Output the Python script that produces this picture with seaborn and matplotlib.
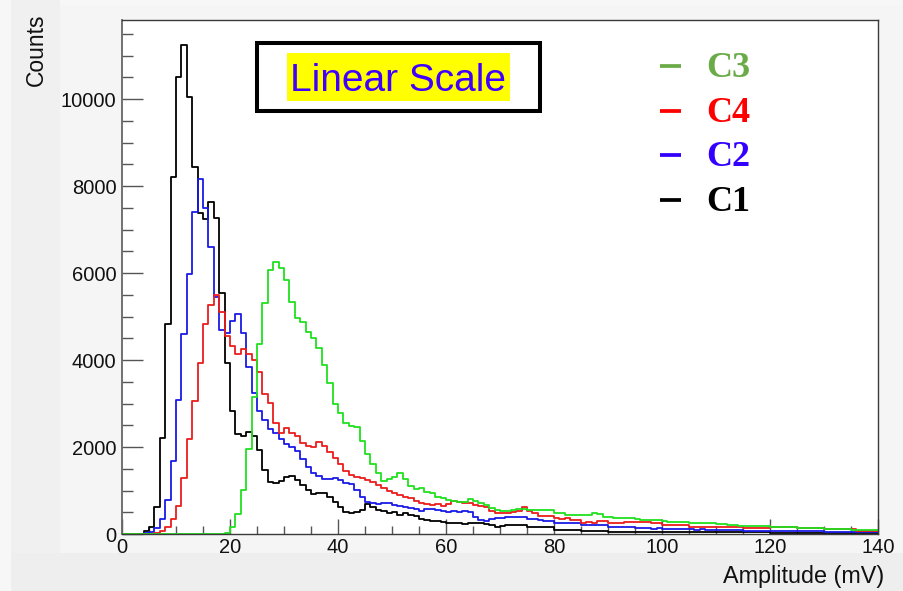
import numpy as np
import pandas as pd
import matplotlib
matplotlib.use("Agg")
import matplotlib.pyplot as plt
import seaborn as sns
from matplotlib.patches import Rectangle
from matplotlib.lines import Line2D
from matplotlib.ticker import MultipleLocator

# Amplitude spectra, 1 mV bins from 0 to 140 mV (counts per bin)
amp_min, amp_max, bin_width = 0, 140, 1

c1_counts = [
    0, 0, 0, 10, 60, 150, 630, 2200, 4820, 8200,
    10500, 11250, 10060, 8430, 7380, 7250, 7640, 7260, 5550, 3925,
    2830, 2300, 2250, 2350, 2254, 1932, 1472, 1204, 1180, 1220,
    1300, 1330, 1250, 1130, 1010, 920, 935, 935, 860, 745,
    630, 515, 475, 515, 550, 690, 630, 550, 535, 490,
    515, 440, 475, 440, 415, 340, 320, 305, 305, 285,
    260, 260, 245, 230, 260, 260, 245, 230, 205, 170,
    185, 205, 205, 200, 210, 155, 150, 155, 150, 155,
    95, 90, 90, 92, 88, 70, 68, 70, 66, 70,
    55, 52, 55, 54, 50, 55, 52, 50, 48, 52,
    46, 45, 48, 44, 46, 42, 45, 44, 40, 44,
    38, 40, 36, 38, 40, 36, 38, 35, 38, 36,
    32, 30, 33, 31, 30, 32, 29, 31, 30, 32,
    30, 29, 31, 28, 30, 31, 29, 30, 28, 30,
]

c2_counts = [
    0, 0, 0, 5, 20, 50, 138, 340, 782, 1670,
    3070, 4600, 5980, 7414, 8165, 7500, 6600, 5440, 4690, 4620,
    4900, 5060, 4620, 3830, 3240, 2837, 2622, 2420, 2315, 2177,
    2070, 2000, 1905, 1717, 1530, 1395, 1325, 1270, 1258, 1280,
    1242, 1175, 1140, 1012, 860, 744, 705, 690, 705, 705,
    667, 644, 629, 590, 567, 537, 567, 567, 552, 537,
    514, 537, 514, 537, 514, 400, 322, 307, 337, 360,
    360, 380, 390, 385, 380, 337, 340, 330, 307, 305,
    262, 260, 258, 262, 255, 210, 205, 207, 200, 205,
    170, 168, 165, 170, 160, 130, 128, 132, 125, 130,
    107, 105, 110, 104, 108, 105, 100, 108, 102, 100,
    92, 90, 94, 88, 92, 78, 76, 80, 75, 77,
    70, 68, 72, 66, 69, 68, 70, 65, 68, 66,
    55, 54, 56, 52, 55, 54, 52, 55, 53, 54,
]

c3_counts = [
    0, 0, 0, 0, 0, 0, 0, 0, 0, 0,
    0, 0, 0, 0, 0, 0, 0, 0, 0, 15,
    168, 460, 1020, 1950, 3150, 4370, 5321, 6070, 6264, 6110,
    5850, 5344, 4960, 4884, 4640, 4510, 4270, 3887, 3465, 3000,
    2780, 2550, 2484, 2470, 2130, 1850, 1600, 1400, 1210, 1265,
    1320, 1395, 1257, 1104, 1027, 1050, 974, 935, 859, 820,
    782, 767, 736, 744, 797, 767, 705, 667, 590, 552,
    537, 537, 560, 567, 565, 552, 555, 550, 552, 548,
    490, 485, 437, 440, 435, 438, 436, 475, 470, 399,
    400, 360, 362, 358, 360, 356, 322, 325, 320, 322,
    300, 284, 286, 282, 280, 261, 262, 258, 260, 262,
    230, 220, 210, 207, 190, 184, 186, 180, 184, 182,
    160, 153, 155, 150, 153, 130, 128, 132, 130, 128,
    107, 110, 105, 108, 106, 92, 95, 90, 93, 92,
]

c4_counts = [
    0, 0, 0, 0, 5, 10, 25, 60, 168, 337,
    644, 1280, 2177, 3067, 3925, 4830, 5267, 5497, 5106, 4560,
    4330, 4150, 4260, 4150, 3995, 3720, 3230, 3010, 2545, 2331,
    2430, 2331, 2245, 2100, 2030, 2000, 2110, 2015, 1880, 1750,
    1600, 1450, 1357, 1300, 1290, 1250, 1204, 1127, 1050, 1000,
    951, 897, 859, 820, 767, 721, 690, 667, 690, 644,
    690, 767, 744, 705, 721, 667, 644, 613, 537, 491,
    475, 480, 514, 520, 629, 537, 490, 414, 420, 410,
    360, 355, 362, 322, 318, 261, 265, 258, 307, 300,
    261, 258, 262, 284, 280, 286, 282, 278, 261, 258,
    207, 210, 205, 208, 204, 169, 170, 168, 166, 170,
    153, 150, 155, 152, 150, 130, 132, 128, 130, 131,
    153, 150, 155, 150, 152, 148, 130, 128, 132, 129,
    107, 105, 108, 104, 106, 105, 77, 80, 76, 78,
]

channels = ["C3", "C4", "C2", "C1"]
line_colors = {"C1": "#000000", "C2": "#1a1ae6", "C3": "#1fe01f", "C4": "#ec1c1c"}
legend_colors = {"C3": "#6aab48", "C4": "#ff0000", "C2": "#3300ff", "C1": "#000000"}

series = {"C1": c1_counts, "C2": c2_counts, "C3": c3_counts, "C4": c4_counts}
bin_centers = np.arange(amp_min, amp_max, bin_width) + bin_width / 2
df = pd.concat(
    [pd.DataFrame({"amplitude": bin_centers, "counts": vals, "channel": name})
     for name, vals in series.items()],
    ignore_index=True,
)

sns.set_theme(style="white")
plt.rcParams["font.family"] = ["Liberation Sans", "DejaVu Sans"]

W, H = 904, 591
def fx(px):
    return px / W
def fy(py):
    return 1 - py / H

fig = plt.figure(figsize=(W / 100, H / 100), dpi=100)
fig.patch.set_facecolor("#f7f7f7")

# canvas frame shading
fig.add_artist(Rectangle((fx(11), fy(553)), fx(60) - fx(11), fy(0) - fy(553),
                         transform=fig.transFigure, facecolor="#f0f0f0",
                         edgecolor="none", zorder=-2))
fig.add_artist(Rectangle((fx(60), fy(553)), 1 - fx(60), fy(5) - fy(553),
                         transform=fig.transFigure, facecolor="#f5f5f5",
                         edgecolor="none", zorder=-2))

ax = fig.add_axes([fx(122), fy(534), fx(878) - fx(122), fy(20) - fy(534)])
ax.set_facecolor("white")

sns.histplot(
    data=df, x="amplitude", weights="counts", hue="channel",
    hue_order=channels, binwidth=bin_width, binrange=(amp_min, amp_max),
    element="step", fill=False, palette=line_colors, linewidth=1.3,
    legend=False, ax=ax,
)

ax.set_xlim(amp_min, amp_max)
ax.set_ylim(0, 11820)
ax.set_xlabel("")
ax.set_ylabel("")

ax.xaxis.set_major_locator(MultipleLocator(20))
ax.xaxis.set_minor_locator(MultipleLocator(5))
ax.yaxis.set_major_locator(MultipleLocator(2000))
ax.yaxis.set_minor_locator(MultipleLocator(500))

ax.tick_params(axis="both", which="both", direction="in", colors="#555555",
               labelcolor="#111111", width=1.0, top=False, right=False,
               left=True, bottom=True)
ax.tick_params(axis="y", which="major", length=15, labelsize=14.5, pad=4)
ax.tick_params(axis="y", which="minor", length=8)
ax.tick_params(axis="x", which="major", length=11, labelsize=14.5, pad=3)
ax.tick_params(axis="x", which="minor", length=5.5)

for side in ["left", "right", "top", "bottom"]:
    ax.spines[side].set_visible(True)
    ax.spines[side].set_color("#3a3a3a")
    ax.spines[side].set_linewidth(1.0)
ax.spines["left"].set_color("#666666")
ax.spines["left"].set_linewidth(1.3)

# bottom band of the canvas (lies over the lower part of the tick labels)
fig.add_artist(Rectangle((fx(11), 0), 1 - fx(11), fy(553),
                         transform=fig.transFigure, facecolor="#eeeeee",
                         edgecolor="none", zorder=1))

fig.text(fx(36), fy(14), "Counts", rotation=90, ha="center", va="top",
         fontsize=16.5, color="#111111", zorder=3)
fig.text(fx(884), fy(577), "Amplitude (mV)", ha="right", va="center",
         fontsize=16.8, color="#111111", zorder=3)

# title box
fig.add_artist(Rectangle((fx(257.5), fy(111)), fx(539.5) - fx(257.5), fy(43) - fy(111),
                         transform=fig.transFigure, facecolor="white",
                         edgecolor="black", linewidth=2.9, zorder=4))
fig.add_artist(Rectangle((fx(286.7), fy(100.7)), fx(510) - fx(286.7), fy(53.3) - fy(100.7),
                         transform=fig.transFigure, facecolor="#ffff00",
                         edgecolor="none", zorder=5))
fig.text(fx(398.5), fy(91), "Linear Scale", ha="center", va="baseline",
         fontsize=28, color="#3f00ff", zorder=6)

# channel legend
legend_rows = {"C3": 66, "C4": 110.5, "C2": 155, "C1": 199.5}
for name in channels:
    yc = legend_rows[name]
    fig.add_artist(Line2D([fx(660), fx(681)], [fy(yc), fy(yc)],
                          transform=fig.transFigure, color=legend_colors[name],
                          linewidth=2.7, solid_capstyle="butt", zorder=4))
    fig.text(fx(706.5), fy(yc + 11), name, ha="left", va="baseline",
             fontsize=26, fontweight="bold", family=["Liberation Serif", "DejaVu Serif"],
             color=legend_colors[name], zorder=4)

fig.savefig("out.png", dpi=100, facecolor=fig.get_facecolor())
